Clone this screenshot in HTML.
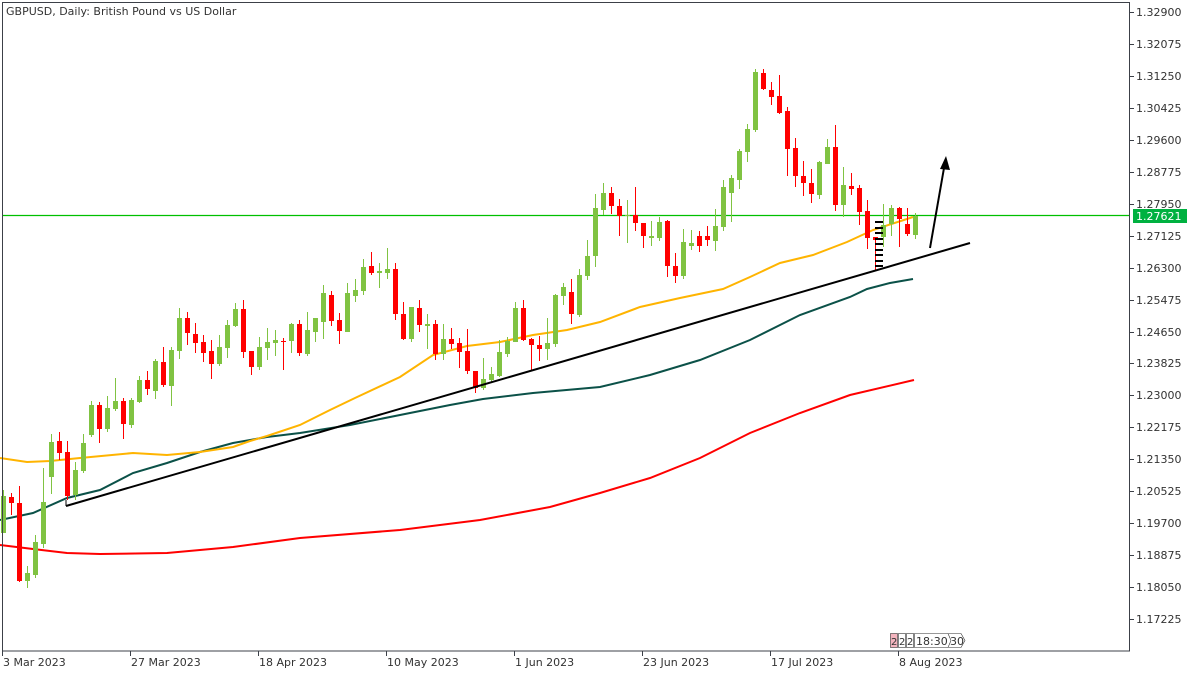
<!DOCTYPE html>
<html><head><meta charset="utf-8"><style>
body{margin:0;background:#fff;width:1200px;height:675px;overflow:hidden}
svg{display:block}
text{font-family:"DejaVu Sans","Liberation Sans",sans-serif;font-size:11px;fill:#333}
</style></head><body>
<svg id="s" width="1200" height="675" xmlns="http://www.w3.org/2000/svg">
<rect x="0" y="0" width="1200" height="675" fill="#fff"/>
<text x="6" y="15" style="font-size:11px">GBPUSD, Daily:  British Pound vs US Dollar</text>
<g id="g"></g>
</svg>
<script>
var D=[
[1,496,533,490,533],[0,497,503,493,515],[0,503,581,486,582],[1,573,581,566,588],[1,542,575,535,578],[1,502,544,468,548],
[1,442,477,434,494],[0,441,453,432,460],[0,452,496,441,500],[1,470,495,462,500],[1,443,471,434,473],[1,405,435,401,437],
[0,405,429,402,443],[1,408,429,396,432],[1,401,409,378,411],[0,401,424,398,439],[1,400,425,398,428],[1,380,402,376,403],
[0,380,389,371,395],[1,361,391,359,399],[0,362,385,347,387],[1,350,386,347,406],[1,318,351,308,359],[0,318,333,312,345],
[0,334,343,323,353],[0,342,353,335,362],[0,351,364,340,379],[1,347,364,335,366],[1,325,348,320,358],[1,309,326,303,327],
[0,309,352,300,358],[0,351,367,351,375],[1,347,367,337,370],[1,342,348,328,360],[1,340,343,330,356],[0,341,342,338,370],
[1,324,341,323,353],[0,324,353,320,356],[1,330,354,312,356],[1,318,332,318,342],[1,293,322,285,339],[0,295,321,291,326],
[0,320,331,313,344],[1,293,332,283,332],[1,290,296,279,302],[1,267,291,259,295],[0,266,273,252,275],[1,271,273,263,288],
[1,269,273,248,279],[0,269,314,263,320],[0,314,339,302,340],[1,307,339,307,342],[0,308,325,300,332],[1,324,326,314,349],
[0,324,354,320,360],[1,339,354,324,360],[0,339,344,328,349],[0,343,352,338,368],[0,351,371,329,374],[0,371,388,371,393],
[1,379,388,358,390],[1,374,380,367,382],[1,352,376,340,377],[1,341,354,337,357],[1,308,342,302,342],[0,308,340,300,341],
[0,339,345,338,370],[0,345,349,336,361],[1,343,349,318,360],[1,295,344,294,347],[1,287,296,283,305],[0,292,314,279,324],
[1,275,315,269,317],[1,256,276,240,280],[1,208,256,194,267],[1,193,210,183,215],[0,193,206,187,214],[0,206,216,199,236],
[1,215,216,200,243],[0,215,223,187,231],[0,223,236,223,248],[1,236,238,221,246],[1,222,238,217,241],[0,221,266,220,277],
[0,266,276,253,283],[1,242,276,229,279],[1,243,246,230,250],[0,236,246,231,252],[0,236,240,226,246],[1,226,241,209,251],
[1,187,227,180,231],[1,178,193,175,222],[1,151,180,149,189],[1,129,152,124,162],[1,72,130,69,132],[0,73,89,69,90],
[0,90,97,82,105],[0,96,113,75,114],[0,111,149,107,176],[0,148,176,138,187],[0,176,183,161,196],[0,183,194,169,203],
[1,162,195,161,199],[1,147,164,139,164],[0,147,205,125,211],[1,185,205,167,217],[0,186,189,173,195],[0,188,212,185,225],
[0,211,238,200,249],[0,237,240,237,270],[1,225,237,204,247],[1,208,224,205,236],[0,208,219,207,247],[0,224,234,208,236],
[1,216,235,213,239]];
var h='';
function pl(p,c,w){return '<polyline fill="none" stroke="'+c+'" stroke-width="'+w+'" points="'+p+'"/>';}
h+=pl("0,545 33,549 67,553 100,554 167,553 200,550 233,547 300,538 400,530 480,520 550,507 600,493 650,478 700,458 750,433 800,413 850,395 914,380","#ff0000",2);
h+=pl("0,520 33,513 67,498 100,490 133,473 167,463 200,452 233,443 267,437 300,433 350,425 400,415 450,405 483,399 533,393 600,387 650,375 700,360 750,340 800,315 850,297 867,289 890,283 913,279","#0b5148",2);
h+=pl("0,458 27,462 50,461 80,458 133,453 167,455 200,452 233,447 250,441 267,436 300,425 330,410 355,398 400,377 433,355 467,346 500,342 533,335 567,330 600,322 640,307 680,298 723,289 750,277 780,263 813,255 847,242 873,230 913,217","#ffb400",2);
h+='<line x1="2" y1="215.5" x2="1130" y2="215.5" stroke="#00c000" stroke-width="1.3"/>';
for(var i=0;i<D.length;i++){var d=D[i],x=3+8*i,c=d[0]?'#80c342':'#ff0000';
h+='<rect shape-rendering="crispEdges" x="'+x+'" y="'+d[3]+'" width="1" height="'+(d[4]-d[3])+'" fill="'+c+'"/>';
h+='<rect shape-rendering="crispEdges" x="'+(x-2)+'" y="'+d[1]+'" width="5" height="'+Math.max(1,d[2]-d[1])+'" fill="'+c+'"/>';}
h+='<line x1="66" y1="506" x2="970" y2="243" stroke="#000" stroke-width="2"/>';
h+='<line x1="66" y1="500" x2="66" y2="506" stroke="#000" stroke-width="1"/>';
h+='<line x1="930" y1="248" x2="944" y2="168" stroke="#000" stroke-width="2"/>';
h+='<polygon points="946,156 950,170 940,169" fill="#000"/>';
for(var k=0;k<9;k++){var y=221+k*5.5;h+='<rect shape-rendering="crispEdges" x="875" y="'+Math.round(y)+'" width="8" height="2" fill="#000"/>';}
h+='<rect x="2.5" y="2.5" width="1127" height="648.5" fill="none" stroke="#3c4048" stroke-width="1"/>';
var L=["1.32900","1.32075","1.31250","1.30425","1.29600","1.28775","1.27950","1.27125","1.26300","1.25475","1.24650","1.23825","1.23000","1.22175","1.21350","1.20525","1.19700","1.18875","1.18050","1.17225"];
for(var j=0;j<L.length;j++){var y=Math.round(12+j*31.95);
h+='<line x1="1130" y1="'+(y+.5)+'" x2="1134" y2="'+(y+.5)+'" stroke="#3c4048"/>';
h+='<text x="1136" y="'+(y+4)+'">'+L[j]+'</text>';}
h+='<rect x="1133" y="209" width="54" height="14" fill="#00b140"/><text x="1136" y="220" style="fill:#fff">1.27621</text>';
var T=["3 Mar 2023","27 Mar 2023","18 Apr 2023","10 May 2023","1 Jun 2023","23 Jun 2023","17 Jul 2023","8 Aug 2023"];
for(var j=0;j<T.length;j++){var x=2+128*j;
h+='<line x1="'+(x+.5)+'" y1="651" x2="'+(x+.5)+'" y2="656" stroke="#3c4048"/>';
h+='<text x="'+(x+1)+'" y="666">'+T[j]+'</text>';}
h+='<rect x="890.5" y="633.5" width="7" height="14" fill="#f4b4be" stroke="#333" stroke-width="0.6"/><text x="891" y="645" style="font-size:10px">2</text>';
h+='<rect x="898.5" y="633.5" width="7" height="14" fill="#fff" stroke="#333" stroke-width="0.6"/><text x="899" y="645" style="font-size:10px">2</text>';
h+='<rect x="906.5" y="633.5" width="7" height="14" fill="#fff" stroke="#333" stroke-width="0.6"/><text x="907" y="645" style="font-size:10px">2</text>';
h+='<path d="M914.5 633.5 H948 L951 640.5 L948 647.5 H914.5 Z" fill="#fff" stroke="#333" stroke-width="0.6"/><text x="916" y="645" style="font-size:11px">18:30</text>';
h+='<path d="M948.5 633.5 H961 L965 640.5 L961 647.5 H948.5" fill="none" stroke="#333" stroke-width="0.6"/><text x="950" y="645" style="font-size:11px">30</text>';
document.getElementById('g').innerHTML=h;
</script>
</body></html>
